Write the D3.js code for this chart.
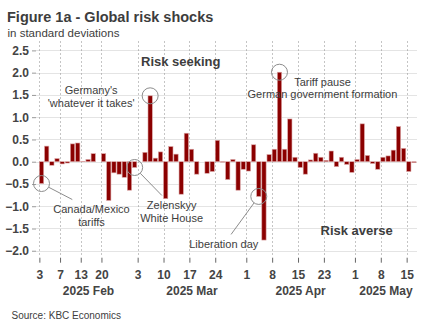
<!DOCTYPE html>
<html>
<head>
<meta charset="utf-8">
<script src="https://cdn.jsdelivr.net/npm/d3@7"></script>
<style>
  html, body { margin: 0; padding: 0; background: #fff; }
  svg { display: block; font-family: "Liberation Sans", Arial, sans-serif; }
</style>
</head>
<body>
<svg id="chart" width="432" height="334"></svg>
<script>
// US trading days, 3 Feb - 16 May 2025
const febDays = [3,4,5,6,7,10,11,12,13,14,18,19,20,21,24,25,26,27,28];
const marDays = [3,4,5,6,7,10,11,12,13,14,17,18,19,20,21,24,25,26,27,28,31];
const aprDays = [1,2,3,4,7,8,9,10,11,14,15,16,17,21,22,23,24,25,28,29,30];
const mayDays = [1,2,5,6,7,8,9,12,13,14,15,16];

// Daily global risk shock, in standard deviations
const shocks = [
  -0.49, 0.35, -0.08, 0.07, -0.05, -0.03, 0.40, 0.42, 0.01, 0.05,
   0.18, 0.00, 0.18, -0.87, -0.25, -0.28, -0.35, -0.64, -0.13, 0.00,
   0.21, 1.48, 0.08, 0.22, -0.83, 0.34, 0.17, -0.73, 0.64, 0.28,
  -0.28, 0.00, -0.26, -0.22, 0.48, -0.01, -0.40, 0.05, -0.64, -0.17,
  -0.21, 0.38, -0.78, -1.76, 0.16, 0.28, 2.01, 0.28, 0.96, 0.10,
  -0.13, -0.28, 0.04, 0.19, 0.10, 0.03, 0.24, -0.11, 0.10, -0.06,
  -0.24, 0.05, 0.85, 0.14, -0.04, -0.17, 0.10, 0.13, 0.26, 0.79,
   0.30, -0.22, -0.02
];

// Labelled x ticks (day of month) and month captions
const tickDates = ["2025-02-03","2025-02-07","2025-02-13","2025-02-20",
                   "2025-03-03","2025-03-10","2025-03-17","2025-03-24",
                   "2025-04-01","2025-04-08","2025-04-15","2025-04-23",
                   "2025-05-01","2025-05-08","2025-05-15"];
const monthLabels = ["2025 Feb","2025 Mar","2025 Apr","2025 May"];
const yTicks = [-2.0,-1.5,-1.0,-0.5,0.0,0.5,1.0,1.5,2.0,2.5];

// Event annotations: trading date, text lines, label centre offset
const events = [
  { date: "2025-02-03", lines: ["Canada/Mexico","tariffs"], dx: 50, dy: 26, leader: true },
  { date: "2025-02-28", lines: ["Zelenskyy","White House"], dx: 37, dy: 38, leader: true },
  { date: "2025-03-05", lines: ["Germany's","'whatever it takes'"], dx: -59, dy: 1, leader: false },
  { date: "2025-04-03", lines: ["Liberation day"], dx: -35, dy: 48, leader: true },
  { date: "2025-04-09", lines: ["Tariff pause","German government formation"], dx: 43, dy: 16, leader: false }
];

const fmt = d3.timeFormat("%Y-%m-%d");
const dates = [];
[[1,febDays],[2,marDays],[3,aprDays],[4,mayDays]].forEach(([m, days]) =>
  days.forEach(d => dates.push(new Date(2025, m, d))));
const dateKeys = dates.map(fmt);
const data = dates.map((d, i) => ({ date: d, key: dateKeys[i], value: shocks[i] }));

const svg = d3.select("#chart");
const textCol = "#3d3d3d";

const plot = { left: 36, right: 417, top: 41.5, bottom: 255.2 };
const x = d3.scaleLinear().domain([-0.65, dates.length]).range([plot.left, plot.right]);
const y = d3.scaleLinear().domain([-2.1, 2.7]).range([plot.bottom, plot.top]);
const barW = 4.3;

// Title block
svg.append("text").attr("x", 7).attr("y", 21.5)
  .attr("font-size", 14.5).attr("font-weight", "bold").attr("fill", textCol)
  .text("Figure 1a - Global risk shocks");
svg.append("text").attr("x", 7.5).attr("y", 37)
  .attr("font-size", 11.5).attr("fill", textCol)
  .text("in standard deviations");

// Horizontal grid
svg.append("g").selectAll("line").data(yTicks).join("line")
  .attr("x1", plot.left).attr("x2", plot.right)
  .attr("y1", d => Math.round(y(d)) + 0.5).attr("y2", d => Math.round(y(d)) + 0.5)
  .attr("stroke", "#e4e4e4").attr("stroke-width", 1);

// Vertical dotted grid at labelled dates
const tickIdx = tickDates.map(k => dateKeys.indexOf(k));
svg.append("g").selectAll("line").data(tickIdx).join("line")
  .attr("x1", i => Math.round(x(i)) + 0.5).attr("x2", i => Math.round(x(i)) + 0.5)
  .attr("y1", plot.top).attr("y2", plot.bottom)
  .attr("stroke", "#8a8a8a").attr("stroke-width", 1).attr("stroke-dasharray", "1,3");

// Y axis
const yAxis = d3.axisLeft(y).tickValues(yTicks).tickSize(4).tickPadding(3)
  .tickFormat(d3.format(".1f"));
const gy = svg.append("g").attr("transform", `translate(${plot.left},0)`).call(yAxis);
gy.select(".domain").remove();
gy.selectAll(".tick line").attr("stroke", "#999");
gy.selectAll(".tick text").attr("font-size", 12).attr("font-weight", "bold")
  .attr("fill", "#444").attr("font-family", "Liberation Sans, Arial, sans-serif");

// X axis (ticks at trading-day positions)
const xAxis = d3.axisBottom(x).tickValues(tickIdx).tickSize(5).tickPadding(8)
  .tickFormat(i => dates[i].getDate());
const gx = svg.append("g").attr("transform", `translate(0,${plot.bottom + 2.5})`).call(xAxis);
gx.select(".domain").remove();
gx.selectAll(".tick line").attr("stroke", "#666");
gx.selectAll(".tick text").attr("font-size", 12).attr("font-weight", "bold")
  .attr("fill", "#444").attr("font-family", "Liberation Sans, Arial, sans-serif");

// Month captions centred on each month's span
const months = d3.groups(data.map((d, i) => ({ m: d.date.getMonth(), i })), d => d.m);
svg.append("g").selectAll("text").data(months).join("text")
  .attr("x", ([, arr]) => {
    const a = x(arr[0].i), b = x(arr[arr.length - 1].i + 1);
    return Math.min((a + b) / 2, 395);
  })
  .attr("y", 294.5)
  .attr("text-anchor", "middle").attr("font-size", 12).attr("font-weight", "bold")
  .attr("fill", "#444")
  .text((d, k) => monthLabels[k]);

// Bars
svg.append("g").selectAll("rect").data(data).join("rect")
  .attr("x", (d, i) => x(i))
  .attr("width", barW)
  .attr("y", d => y(Math.max(0, d.value)))
  .attr("height", d => Math.abs(y(d.value) - y(0)))
  .attr("fill", "#8b0000")
  .attr("stroke", "#dba5a5").attr("stroke-width", 0.6);

// Regime labels
svg.append("text").attr("x", 220.5).attr("y", 65.7).attr("text-anchor", "end")
  .attr("font-size", 13).attr("font-weight", "bold").attr("fill", textCol)
  .text("Risk seeking");
svg.append("text").attr("x", 320.5).attr("y", 235).attr("font-size", 13)
  .attr("font-weight", "bold").attr("fill", textCol)
  .text("Risk averse");

// Event circles, leader lines and labels
const r = 8;
const ann = svg.append("g");
events.forEach(ev => {
  const i = dateKeys.indexOf(ev.date);
  const cx = x(i) + barW / 2, cy = y(shocks[i]);
  ann.append("circle").attr("cx", cx).attr("cy", cy).attr("r", r)
    .attr("fill", "none").attr("stroke", "#8c8c8c").attr("stroke-width", 1);
  const lx = cx + ev.dx, ly = cy + ev.dy;
  if (ev.leader) {
    const ang = Math.atan2(ev.dy, ev.dx);
    const endY = ly - 10;
    const endX = cx + ev.dx * (endY - cy) / ev.dy;
    ann.append("line")
      .attr("x1", cx + r * Math.cos(ang)).attr("y1", cy + r * Math.sin(ang))
      .attr("x2", endX).attr("y2", endY)
      .attr("stroke", "#8c8c8c").attr("stroke-width", 1);
  }
  const t = ann.append("text").attr("text-anchor", "middle")
    .attr("font-size", 11).attr("fill", textCol);
  ev.lines.forEach((s, k) => {
    t.append("tspan").attr("x", lx).attr("y", ly + 3.8 + k * 12.5 - (ev.lines.length - 1) * 6.25 * (ev.leader ? 0 : 1)).text(s);
  });
});

// Source
svg.append("text").attr("x", 11.5).attr("y", 318.5).attr("font-size", 10)
  .attr("fill", textCol).text("Source: KBC Economics");
</script>
</body>
</html>
